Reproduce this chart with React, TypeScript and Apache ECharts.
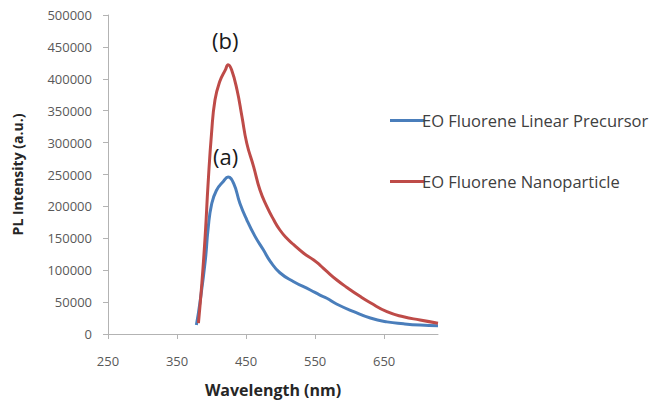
import React, { useEffect, useRef } from "react";
import * as echarts from "echarts";

// Series (b): EO Fluorene Nanoparticle
const wavelengthsB = [381, 386, 391, 395, 400, 405, 412, 420, 424, 429, 437, 444, 451, 461, 470, 480, 490, 499, 509, 519, 533, 548, 557, 567, 581, 596, 615, 630, 654, 678, 702, 728];
const intensityB = [17000, 80000, 158000, 236000, 315000, 367000, 396000, 414000, 422000, 414000, 382000, 341000, 299000, 262000, 226000, 200000, 179000, 163000, 150000, 140000, 127000, 116000, 108000, 98000, 85000, 73000, 59000, 49000, 35000, 27000, 22000, 17000];

// Series (a): EO Fluorene Linear Precursor
const wavelengthsA = [378, 383, 391, 395, 400, 407, 417, 424, 432, 441, 451, 463, 475, 485, 499, 519, 543, 557, 567, 581, 606, 630, 654, 678, 702, 728];
const intensityA = [14000, 48000, 116000, 165000, 203000, 225000, 239000, 246000, 236000, 205000, 179000, 153000, 132000, 114000, 96000, 82000, 69000, 61000, 56000, 47000, 35000, 25000, 19000, 16000, 14000, 13000];

const xTickValues = [250, 350, 450, 550, 650];
const seriesNames = ["EO Fluorene Linear Precursor", "EO Fluorene Nanoparticle"];
const annotations = ["(b)", "(a)"];

export default function App() {
  const ref = useRef<HTMLDivElement>(null);
  useEffect(() => {
    if (!ref.current) return;
    const chart = echarts.init(ref.current, null, { renderer: "svg" });
    const pairsA = wavelengthsA.map((w, i) => [w, intensityA[i]]);
    const pairsB = wavelengthsB.map((w, i) => [w, intensityB[i]]);
    const font = "Open Sans";
    chart.setOption({
      animation: false,
      backgroundColor: "#ffffff",
      grid: { left: 108, right: 216, top: 15, bottom: 69, containLabel: false },
      legend: {
        orient: "vertical",
        left: 385,
        top: 107,
        itemGap: 44,
        icon: "rect",
        itemWidth: 34,
        itemHeight: 3,
        textStyle: { fontFamily: font, fontSize: 16.5, color: "#404040", padding: [0, 0, 0, -7] },
        data: seriesNames,
      },
      xAxis: {
        type: "value",
        min: 250,
        max: 728,
        interval: 100,
        name: "Wavelength (nm)",
        nameLocation: "middle",
        nameGap: 48,
        nameTextStyle: { fontFamily: font, fontSize: 16, fontWeight: "bold", color: "#262626" },
        axisLine: { show: true, lineStyle: { color: "#b3b3b3", width: 1 } },
        axisTick: { show: true, length: 5, customValues: xTickValues, lineStyle: { color: "#b3b3b3" } },
        axisLabel: { customValues: xTickValues, margin: 20, fontFamily: font, fontSize: 13, color: "#595959" },
        splitLine: { show: false },
      },
      yAxis: {
        type: "value",
        min: 0,
        max: 500000,
        interval: 50000,
        name: "PL Intensity (a.u.)",
        nameLocation: "middle",
        nameGap: 84,
        nameTextStyle: { fontFamily: font, fontSize: 14, fontWeight: "bold", color: "#262626" },
        axisLine: { show: true, lineStyle: { color: "#b3b3b3", width: 1 } },
        axisTick: { show: true, length: 5, lineStyle: { color: "#b3b3b3" } },
        axisLabel: {
          margin: 16,
          fontFamily: font,
          fontSize: 13,
          color: "#595959",
          formatter: (v: number) => String(v),
        },
        splitLine: { show: false },
      },
      series: [
        {
          name: seriesNames[0],
          type: "line",
          data: pairsA,
          showSymbol: false,
          smooth: 0.5,
          lineStyle: { color: "#4a7ebb", width: 3 },
          itemStyle: { color: "#4a7ebb" },
        },
        {
          name: seriesNames[1],
          type: "line",
          data: pairsB,
          showSymbol: false,
          smooth: 0.5,
          lineStyle: { color: "#be4b48", width: 3 },
          itemStyle: { color: "#be4b48" },
        },
      ],
      graphic: [
        {
          type: "text",
          left: 212,
          top: 29,
          style: { text: annotations[0], font: `22px ${font}`, fill: "#1a1a1a" },
        },
        {
          type: "text",
          left: 213,
          top: 145,
          style: { text: annotations[1], font: `22px ${font}`, fill: "#1a1a1a" },
        },
      ],
    });
    return () => chart.dispose();
  }, []);
  return (
    <div
      ref={ref}
      style={{ position: "fixed", left: 0, top: 0, width: 654, height: 403 }}
    />
  );
}
